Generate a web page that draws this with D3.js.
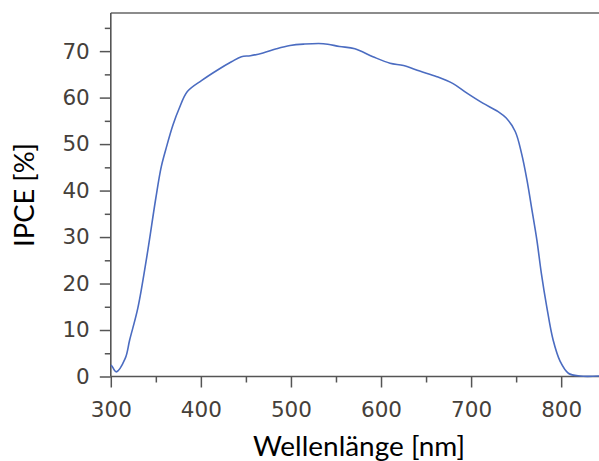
<!DOCTYPE html>
<html>
<head>
<meta charset="utf-8">
<script src="https://cdn.jsdelivr.net/npm/d3@7"></script>
<style>
  html, body { margin: 0; padding: 0; background: #fff; }
  svg { display: block; }
</style>
</head>
<body>
<svg id="chart" width="599" height="461"></svg>
<script>
// Data (wavelength in nm, IPCE in %)
const wavelength = [300, 301, 306, 316, 321, 330, 340, 350, 356, 362, 369, 376, 385, 401, 419, 434, 445, 455, 469, 484, 499, 514, 536, 554, 571, 591, 610, 625, 643, 662, 680, 695, 713, 730, 739, 749, 756, 762, 767, 773, 778, 784, 791, 799, 808, 821, 842];
const ipce       = [2.4, 2.3, 1.0, 3.9, 7.9, 14.7, 25.8, 38.4, 45.1, 49.5, 54.1, 57.7, 61.3, 63.7, 66.0, 67.7, 68.8, 69.0, 69.6, 70.5, 71.2, 71.5, 71.6, 71.0, 70.5, 68.8, 67.4, 66.9, 65.7, 64.5, 63.0, 61.0, 58.8, 57.0, 55.6, 52.7, 48.0, 42.3, 36.5, 29.4, 22.2, 15.0, 7.9, 3.2, 0.7, 0.1, 0.1];
const xTicks = [300, 400, 500, 600, 700, 800];
const xMinorTicks = [350, 450, 550, 650, 750];
const yTicks = [0, 10, 20, 30, 40, 50, 60, 70];
const yMinorTicks = [5, 15, 25, 35, 45, 55, 65, 75];
const xTitle = "Wellenlänge [nm]";
const yTitle = "IPCE [%]";

const svg = d3.select("#chart");
const mLeft = 110.8, mRight = 599, mTop = 13, mBottom = 376.5;

const x = d3.scaleLinear().domain([300, 842]).range([mLeft, mRight]);
const y = d3.scaleLinear().domain([0, 78.2]).range([mBottom, mTop]);

const axisColor = "#555";
const labelColor = "#45403a";

// frame top line
svg.append("line")
  .attr("x1", mLeft).attr("x2", mRight).attr("y1", mTop).attr("y2", mTop)
  .attr("stroke", "#666").attr("stroke-width", 1.6);

// Y axis major
const gy = svg.append("g").attr("transform", `translate(${mLeft},0)`)
  .call(d3.axisLeft(y).tickValues(yTicks).tickSize(11).tickPadding(10).tickFormat(d3.format("d")));
gy.select(".domain").remove();
gy.selectAll(".tick line").attr("stroke", axisColor).attr("stroke-width", 1.5);
gy.selectAll(".tick text").attr("fill", labelColor)
  .style("font-family", "'DejaVu Sans', sans-serif").style("font-size", "21.5px");

// Y axis minor
const gym = svg.append("g").attr("transform", `translate(${mLeft},0)`)
  .call(d3.axisLeft(y).tickValues(yMinorTicks).tickSize(6).tickFormat(""));
gym.select(".domain").remove();
gym.selectAll(".tick line").attr("stroke", axisColor).attr("stroke-width", 1.5);

// X axis major
const gx = svg.append("g").attr("transform", `translate(0,${mBottom})`)
  .call(d3.axisBottom(x).tickValues(xTicks).tickSize(11).tickPadding(14).tickFormat(d3.format("d")));
gx.select(".domain").remove();
gx.selectAll(".tick line").attr("stroke", axisColor).attr("stroke-width", 1.5);
gx.selectAll(".tick text").attr("fill", labelColor)
  .style("font-family", "'DejaVu Sans', sans-serif").style("font-size", "21.5px");

// X axis minor
const gxm = svg.append("g").attr("transform", `translate(0,${mBottom})`)
  .call(d3.axisBottom(x).tickValues(xMinorTicks).tickSize(6).tickFormat(""));
gxm.select(".domain").remove();
gxm.selectAll(".tick line").attr("stroke", axisColor).attr("stroke-width", 1.5);

// axis lines
svg.append("line")
  .attr("x1", mLeft).attr("x2", mLeft).attr("y1", mTop).attr("y2", mBottom)
  .attr("stroke", axisColor).attr("stroke-width", 1.6);
svg.append("line")
  .attr("x1", mLeft).attr("x2", mRight).attr("y1", mBottom).attr("y2", mBottom)
  .attr("stroke", axisColor).attr("stroke-width", 1.6);

// curve
const line = d3.line()
  .x((d, i) => x(wavelength[i]))
  .y((d, i) => y(ipce[i]))
  .curve(d3.curveCatmullRom.alpha(0.5));
svg.append("path")
  .datum(ipce)
  .attr("d", line)
  .attr("fill", "none")
  .attr("stroke", "#4b6cc1")
  .attr("stroke-width", 1.6);

// titles
svg.append("text")
  .attr("x", 359).attr("y", 456)
  .attr("text-anchor", "middle")
  .attr("textLength", 212).attr("lengthAdjust", "spacingAndGlyphs")
  .style("font-family", "Lato, 'Open Sans', sans-serif").style("font-size", "27px")
  .attr("fill", "#000")
  .text(xTitle);

svg.append("text")
  .attr("transform", "translate(34,195) rotate(-90)")
  .attr("text-anchor", "middle")
  .attr("textLength", 104).attr("lengthAdjust", "spacingAndGlyphs")
  .style("font-family", "Lato, 'Open Sans', sans-serif").style("font-size", "27px")
  .attr("fill", "#000")
  .text(yTitle);
</script>
</body>
</html>
